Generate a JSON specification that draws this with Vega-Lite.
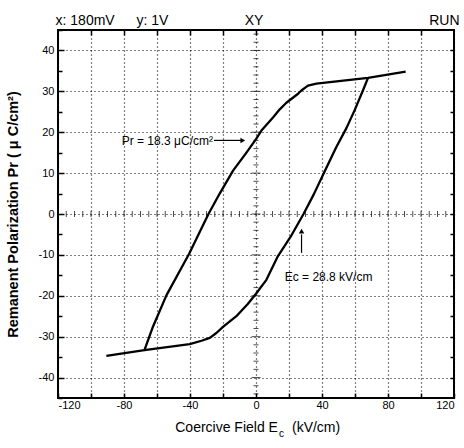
{
  "$schema": "https://vega.github.io/schema/vega-lite/v6.json",
  "autosize": {"type": "none"},
  "padding": {"left": 58, "top": 30, "right": 10, "bottom": 50},
  "width": 396,
  "height": 368,
  "background": "white",
  "config": {
    "font": "Liberation Sans",
    "view": {"stroke": "black", "strokeWidth": 2},
    "axis": {"labelColor": "black", "titleColor": "black", "tickColor": "black", "domain": false}
  },
  "datasets": {
    "loop": [
      {"b": "A", "i": 1, "E": 90.7, "P": 34.8},
      {"b": "A", "i": 2, "E": 67.9, "P": 33.3},
      {"b": "A", "i": 3, "E": 36.6, "P": 31.9},
      {"b": "A", "i": 4, "E": 31.5, "P": 31.4},
      {"b": "A", "i": 5, "E": 27.5, "P": 30.2},
      {"b": "A", "i": 6, "E": 25.5, "P": 29.4},
      {"b": "A", "i": 7, "E": 18.4, "P": 27.2},
      {"b": "A", "i": 8, "E": 14.4, "P": 25.6},
      {"b": "A", "i": 9, "E": 10.3, "P": 23.6},
      {"b": "A", "i": 10, "E": 3.3, "P": 20.4},
      {"b": "A", "i": 11, "E": 0, "P": 18.3},
      {"b": "A", "i": 12, "E": -5.8, "P": 15.0},
      {"b": "A", "i": 13, "E": -13.9, "P": 10.6},
      {"b": "A", "i": 14, "E": -22.0, "P": 5.0},
      {"b": "A", "i": 15, "E": -28.8, "P": 0},
      {"b": "A", "i": 16, "E": -40.6, "P": -9.8},
      {"b": "A", "i": 17, "E": -54.3, "P": -19.9},
      {"b": "A", "i": 18, "E": -62.4, "P": -27.5},
      {"b": "A", "i": 19, "E": -67.6, "P": -33.3},
      {"b": "A", "i": 20, "E": -90.7, "P": -34.7},
      {"b": "B", "i": 1, "E": -67.6, "P": -33.3},
      {"b": "B", "i": 2, "E": -40.2, "P": -31.8},
      {"b": "B", "i": 3, "E": -33.0, "P": -31.0},
      {"b": "B", "i": 4, "E": -28.0, "P": -30.3},
      {"b": "B", "i": 5, "E": -24.0, "P": -29.1},
      {"b": "B", "i": 6, "E": -20.0, "P": -27.6},
      {"b": "B", "i": 7, "E": -11.9, "P": -25.0},
      {"b": "B", "i": 8, "E": -5.0, "P": -22.0},
      {"b": "B", "i": 9, "E": 0, "P": -19.5},
      {"b": "B", "i": 10, "E": 6.3, "P": -16.1},
      {"b": "B", "i": 11, "E": 13.3, "P": -10.3},
      {"b": "B", "i": 12, "E": 21.5, "P": -5.2},
      {"b": "B", "i": 13, "E": 28.8, "P": 0},
      {"b": "B", "i": 14, "E": 35.0, "P": 4.8},
      {"b": "B", "i": 15, "E": 41.0, "P": 9.9},
      {"b": "B", "i": 16, "E": 48.7, "P": 16.4},
      {"b": "B", "i": 17, "E": 54.8, "P": 21.0},
      {"b": "B", "i": 18, "E": 59.8, "P": 25.4},
      {"b": "B", "i": 19, "E": 64.8, "P": 30.2},
      {"b": "B", "i": 20, "E": 67.9, "P": 33.3}
    ],
    "crossX": [
      {"t": -115}, {"t": -110}, {"t": -105}, {"t": -100}, {"t": -95}, {"t": -90}, {"t": -85}, {"t": -80},
      {"t": -75}, {"t": -70}, {"t": -65}, {"t": -60}, {"t": -55}, {"t": -50}, {"t": -45}, {"t": -40},
      {"t": -35}, {"t": -30}, {"t": -25}, {"t": -20}, {"t": -15}, {"t": -10}, {"t": -5}, {"t": 0},
      {"t": 5}, {"t": 10}, {"t": 15}, {"t": 20}, {"t": 25}, {"t": 30}, {"t": 35}, {"t": 40},
      {"t": 45}, {"t": 50}, {"t": 55}, {"t": 60}, {"t": 65}, {"t": 70}, {"t": 75}, {"t": 80},
      {"t": 85}, {"t": 90}, {"t": 95}, {"t": 100}, {"t": 105}, {"t": 110}, {"t": 115}
    ],
    "crossY": [
      {"t": -44}, {"t": -42}, {"t": -40}, {"t": -38}, {"t": -36}, {"t": -34}, {"t": -32}, {"t": -30},
      {"t": -28}, {"t": -26}, {"t": -24}, {"t": -22}, {"t": -20}, {"t": -18}, {"t": -16}, {"t": -14},
      {"t": -12}, {"t": -10}, {"t": -8}, {"t": -6}, {"t": -4}, {"t": -2}, {"t": 0}, {"t": 2},
      {"t": 4}, {"t": 6}, {"t": 8}, {"t": 10}, {"t": 12}, {"t": 14}, {"t": 16}, {"t": 18},
      {"t": 20}, {"t": 22}, {"t": 24}, {"t": 26}, {"t": 28}, {"t": 30}, {"t": 32}, {"t": 34},
      {"t": 36}, {"t": 38}, {"t": 40}, {"t": 42}, {"t": 44}
    ],
    "arrows": [
      {"name": "Pr", "x1": -25.5, "x2": -9, "y1": 18, "y2": 18, "hx": -8, "hy": 18, "dir": "right"},
      {"name": "Ec", "x1": 27.6, "x2": 27.6, "y1": -9.5, "y2": -5, "hx": 27.6, "hy": -4.2, "dir": "up"}
    ],
    "notes": [
      {"label": "Pr = 18.3 μC/cm²", "x": -81.4, "y": 17.8},
      {"label": "Ec = 28.8 kV/cm", "x": 17.4, "y": -15.4}
    ],
    "header": [
      {"label": "x: 180mV", "x": -121.5, "y": 46.2},
      {"label": "y: 1V", "x": -72.5, "y": 46.2},
      {"label": "XY", "x": -6.8, "y": 46.2},
      {"label": "RUN", "x": 105, "y": 46.2}
    ],
    "xtitleMain": [
      {"label": "Coercive Field E", "x": 13.3, "y": -53.3}
    ],
    "xtitleSub": [
      {"label": "c", "x": 13.9, "y": -54.6}
    ],
    "xtitleUnit": [
      {"label": "(kV/cm)", "x": 21.8, "y": -53.3}
    ]
  },
  "layer": [
    {
      "data": {"name": "loop"},
      "mark": {"type": "line", "color": "black", "strokeWidth": 2.3, "strokeJoin": "round"},
      "encoding": {
        "x": {
          "field": "E", "type": "quantitative",
          "scale": {"domain": [-120, 120], "nice": false, "zero": false},
          "axis": {
            "orient": "bottom",
            "values": [-120, -100, -80, -60, -40, -20, 0, 20, 40, 60, 80, 100, 120],
            "labelExpr": "datum.value % 40 === 0 ? '' + datum.value : ''",
            "labelFontSize": 11,
            "labelPadding": 6,
            "tickSize": -5,
            "tickWidth": 1.5,
            "grid": true,
            "gridColor": "black",
            "gridDash": [1, 3],
            "gridWidth": 1.2,
            "title": null
          }
        },
        "y": {
          "field": "P", "type": "quantitative",
          "scale": {"domain": [-45, 45], "nice": false, "zero": false},
          "axis": {
            "orient": "left",
            "values": [-45, -40, -35, -30, -25, -20, -15, -10, -5, 0, 5, 10, 15, 20, 25, 30, 35, 40, 45],
            "labelExpr": "datum.value % 10 === 0 ? '' + datum.value : ''",
            "labelFontSize": 11,
            "labelPadding": 10,
            "tickSize": {"condition": {"test": "datum.value % 10 === 0", "value": -6}, "value": -4},
            "tickWidth": 1.5,
            "grid": true,
            "gridColor": "black",
            "gridDash": [1, 3],
            "gridWidth": 1.2,
            "gridOpacity": {"condition": {"test": "datum.value % 10 === 0", "value": 1}, "value": 0},
            "title": "Remanent Polarization Pr ( μ C/cm²)",
            "titleFontSize": 14.5,
            "titleFontWeight": "bold",
            "titlePadding": 18
          }
        },
        "detail": {"field": "b"},
        "order": {"field": "i", "type": "quantitative"}
      }
    },
    {
      "data": {"name": "loop"},
      "mark": {"type": "point", "opacity": 0},
      "encoding": {
        "x": {
          "field": "E", "type": "quantitative",
          "axis": {
            "orient": "top",
            "values": [-100, -80, -60, -40, -20, 0, 20, 40, 60, 80, 100],
            "labels": false,
            "tickSize": -5,
            "tickWidth": 1.5,
            "grid": false,
            "title": null
          }
        },
        "y": {
          "field": "P", "type": "quantitative",
          "axis": {
            "orient": "right",
            "values": [-40, -35, -30, -25, -20, -15, -10, -5, 0, 5, 10, 15, 20, 25, 30, 35, 40],
            "labels": false,
            "tickSize": -4,
            "tickWidth": 1.5,
            "grid": false,
            "title": null
          }
        }
      }
    },
    {
      "data": {"name": "crossX"},
      "mark": {"type": "tick", "orient": "vertical", "color": "black", "size": 6, "thickness": 1},
      "encoding": {
        "x": {"field": "t", "type": "quantitative", "axis": null},
        "y": {"datum": 0, "type": "quantitative", "axis": null}
      }
    },
    {
      "data": {"name": "crossY"},
      "mark": {"type": "tick", "orient": "horizontal", "color": "black", "thickness": 1},
      "encoding": {
        "y": {"field": "t", "type": "quantitative", "axis": null},
        "x": {"datum": 0, "type": "quantitative", "axis": null},
        "size": {"condition": {"test": "datum.t % 10 === 0", "value": 9}, "value": 5}
      }
    },
    {
      "data": {"name": "arrows"},
      "mark": {"type": "rule", "color": "black", "strokeWidth": 1.2},
      "encoding": {
        "x": {"field": "x1", "type": "quantitative", "axis": null},
        "x2": {"field": "x2"},
        "y": {"field": "y1", "type": "quantitative", "axis": null},
        "y2": {"field": "y2"}
      }
    },
    {
      "data": {"name": "arrows"},
      "mark": {"type": "point", "filled": true, "color": "black", "size": 30, "opacity": 1},
      "encoding": {
        "x": {"field": "hx", "type": "quantitative", "axis": null},
        "y": {"field": "hy", "type": "quantitative", "axis": null},
        "shape": {
          "field": "dir", "type": "nominal", "legend": null,
          "scale": {"domain": ["right", "up"], "range": ["triangle-right", "triangle-up"]}
        }
      }
    },
    {
      "data": {"name": "notes"},
      "mark": {"type": "text", "align": "left", "baseline": "middle", "fontSize": 12, "color": "black"},
      "encoding": {
        "x": {"field": "x", "type": "quantitative", "axis": null},
        "y": {"field": "y", "type": "quantitative", "axis": null},
        "text": {"field": "label"}
      }
    },
    {
      "data": {"name": "header"},
      "mark": {"type": "text", "align": "left", "baseline": "alphabetic", "fontSize": 14, "color": "black"},
      "encoding": {
        "x": {"field": "x", "type": "quantitative", "axis": null},
        "y": {"field": "y", "type": "quantitative", "axis": null},
        "text": {"field": "label"}
      }
    },
    {
      "data": {"name": "xtitleMain"},
      "mark": {"type": "text", "align": "right", "baseline": "alphabetic", "fontSize": 14, "color": "black"},
      "encoding": {
        "x": {"field": "x", "type": "quantitative", "axis": null},
        "y": {"field": "y", "type": "quantitative", "axis": null},
        "text": {"field": "label"}
      }
    },
    {
      "data": {"name": "xtitleSub"},
      "mark": {"type": "text", "align": "left", "baseline": "alphabetic", "fontSize": 10, "color": "black"},
      "encoding": {
        "x": {"field": "x", "type": "quantitative", "axis": null},
        "y": {"field": "y", "type": "quantitative", "axis": null},
        "text": {"field": "label"}
      }
    },
    {
      "data": {"name": "xtitleUnit"},
      "mark": {"type": "text", "align": "left", "baseline": "alphabetic", "fontSize": 14, "color": "black"},
      "encoding": {
        "x": {"field": "x", "type": "quantitative", "axis": null},
        "y": {"field": "y", "type": "quantitative", "axis": null},
        "text": {"field": "label"}
      }
    }
  ],
  "resolve": {"axis": {"x": "independent", "y": "independent"}}
}
